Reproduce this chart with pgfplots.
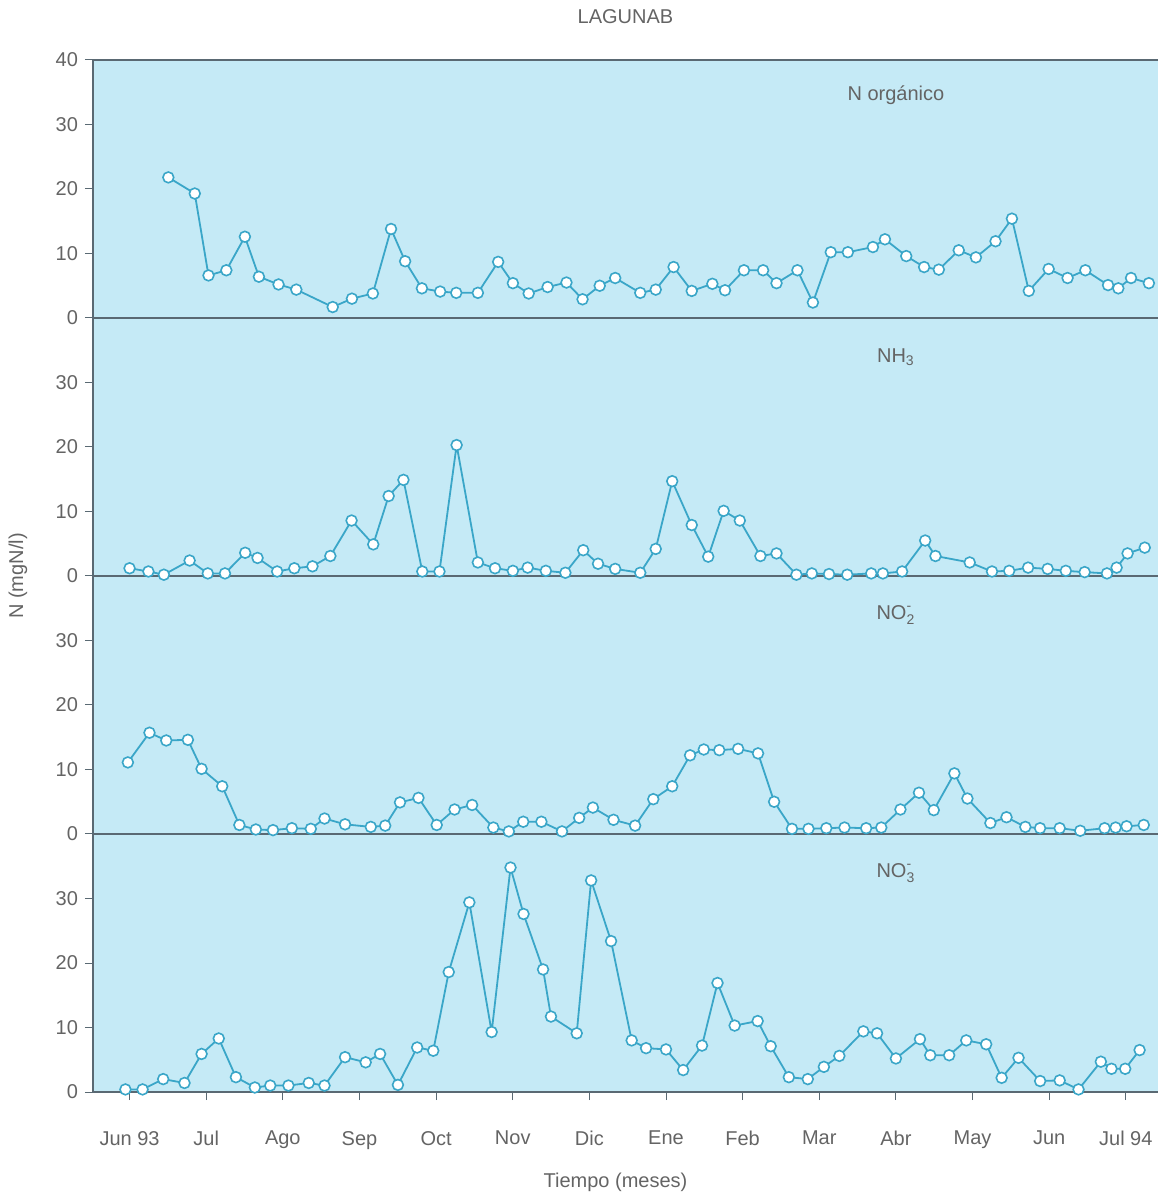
\documentclass[border=0pt]{standalone}
\usepackage{pgfplots}
\pgfplotsset{compat=1.18}
\usepackage{amsmath}
\usepackage{fontspec}
\setmainfont{Liberation Sans}
\definecolor{bgblue}{RGB}{197,234,246}
\definecolor{lineblue}{RGB}{58,166,200}
\definecolor{axgray}{RGB}{90,105,115}
\definecolor{txtgray}{RGB}{100,100,100}
\tikzset{lab/.style={text=txtgray, font=\fontsize{10}{12}\selectfont}}
\pgfplotsset{
 panel/.style={
  width=532.5pt, height=129pt, scale only axis,
  xmin=-0.477, xmax=13.42, ymin=0, ymax=40,
  axis x line*=bottom, axis y line*=left,
  axis line style={axgray, line width=0.7pt, -},
  axis background/.style={fill=bgblue},
  ytick={0,10,20,30},
  xtick=\empty,
  tick align=outside,
  major tick length=4pt,
  tick style={axgray, line width=0.5pt},
  ticklabel style={font=\fontsize{10}{12}\selectfont, text=txtgray},
  /pgf/number format/assume math mode=true,
  clip=false,
 },
 series/.style={lineblue, line width=0.9pt, mark=*, mark size=2.7pt,
   mark options={fill=white, draw=lineblue, line width=0.8pt}},
}
\begin{document}
\begin{tikzpicture}
\useasboundingbox (-46.5pt,-51.5pt) rectangle (532.5pt,546pt);
% Panel 4: NO3-
\begin{axis}[panel, at={(0,0)}, anchor=south west,
  xtick={0,...,13},
  xticklabels={Jun 93,Jul,Ago,Sep,Oct,Nov,Dic,Ene,Feb,Mar,Abr,May,Jun,Jul 94},
  xticklabel style={yshift=-12pt}]
\addplot[series] coordinates {(-0.054,0.4)(0.17,0.4)(0.439,2.0)(0.717,1.4)(0.94,5.9)(1.164,8.3)(1.388,2.3)(1.635,0.7)(1.836,1.0)(2.073,1.0)(2.338,1.4)(2.544,1.0)(2.812,5.4)(3.081,4.6)(3.269,5.9)(3.502,1.1)(3.753,6.9)(3.963,6.4)(4.165,18.6)(4.434,29.4)(4.725,9.3)(4.971,34.8)(5.141,27.6)(5.396,19.0)(5.499,11.7)(5.835,9.1)(6.023,32.8)(6.283,23.4)(6.552,8.0)(6.74,6.8)(7.0,6.6)(7.224,3.4)(7.47,7.2)(7.672,16.9)(7.896,10.3)(8.196,11.0)(8.366,7.1)(8.603,2.3)(8.85,2.0)(9.06,3.9)(9.262,5.6)(9.575,9.4)(9.754,9.1)(10.0,5.2)(10.314,8.2)(10.448,5.7)(10.695,5.7)(10.918,8.0)(11.178,7.4)(11.38,2.2)(11.6,5.3)(11.882,1.7)(12.137,1.8)(12.383,0.4)(12.674,4.7)(12.813,3.6)(12.992,3.6)(13.18,6.5)};
\node[lab] at (axis cs:10,34) {$\text{NO}^{\text{-}}_{\text{3}}$};
\node[lab] at (rel axis cs:0.5,0) [yshift=-45pt, xshift=-5pt] {Tiempo (meses)};
\end{axis}
% Panel 3: NO2-
\begin{axis}[panel, at={(0,129pt)}, anchor=south west]
\addplot[series] coordinates {(-0.022,11.1)(0.26,15.7)(0.479,14.5)(0.761,14.6)(0.94,10.1)(1.209,7.4)(1.433,1.4)(1.648,0.7)(1.872,0.6)(2.118,0.9)(2.365,0.8)(2.544,2.4)(2.812,1.5)(3.148,1.1)(3.336,1.3)(3.529,4.9)(3.77,5.6)(4.008,1.4)(4.241,3.8)(4.47,4.5)(4.747,1.0)(4.949,0.4)(5.137,1.9)(5.374,1.9)(5.643,0.4)(5.867,2.5)(6.046,4.1)(6.315,2.2)(6.597,1.3)(6.834,5.4)(7.081,7.4)(7.314,12.2)(7.493,13.1)(7.695,13.0)(7.941,13.2)(8.201,12.5)(8.411,5.0)(8.644,0.8)(8.859,0.8)(9.092,0.9)(9.329,1.0)(9.612,0.9)(9.809,1.0)(10.059,3.8)(10.301,6.4)(10.494,3.7)(10.763,9.4)(10.933,5.5)(11.233,1.7)(11.443,2.6)(11.689,1.1)(11.881,0.9)(12.137,0.9)(12.405,0.5)(12.723,0.9)(12.867,1.0)(13.01,1.2)(13.234,1.4)};
\node[lab] at (axis cs:10,34) {$\text{NO}^{\text{-}}_{\text{2}}$};
\end{axis}
% Panel 2: NH3
\begin{axis}[panel, at={(0,258pt)}, anchor=south west]
\addplot[series] coordinates {(0,1.2)(0.246,0.7)(0.448,0.2)(0.784,2.4)(1.021,0.4)(1.245,0.4)(1.509,3.6)(1.67,2.8)(1.926,0.7)(2.15,1.2)(2.387,1.5)(2.62,3.1)(2.897,8.6)(3.18,4.9)(3.381,12.4)(3.574,14.9)(3.82,0.7)(4.044,0.7)(4.268,20.3)(4.545,2.1)(4.769,1.2)(5.002,0.8)(5.195,1.3)(5.432,0.8)(5.687,0.5)(5.92,4.0)(6.113,1.9)(6.337,1.1)(6.664,0.5)(6.866,4.2)(7.081,14.7)(7.336,7.9)(7.551,3.0)(7.752,10.1)(7.963,8.6)(8.232,3.1)(8.442,3.5)(8.702,0.2)(8.903,0.4)(9.127,0.3)(9.365,0.2)(9.678,0.4)(9.83,0.4)(10.081,0.7)(10.382,5.5)(10.516,3.1)(10.963,2.1)(11.254,0.7)(11.478,0.8)(11.725,1.3)(11.98,1.1)(12.217,0.8)(12.463,0.6)(12.754,0.4)(12.88,1.3)(13.023,3.5)(13.247,4.4)};
\node[lab] at (axis cs:10,34) {NH\textsubscript{3}};
\end{axis}
% Panel 1: N organico
\begin{axis}[panel, at={(0,387pt)}, anchor=south west, ytick={0,10,20,30,40}]
\addplot[series] coordinates {(0.506,21.8)(0.851,19.3)(1.03,6.6)(1.263,7.4)(1.505,12.6)(1.688,6.4)(1.944,5.2)(2.176,4.4)(2.651,1.7)(2.902,3.0)(3.175,3.8)(3.412,13.8)(3.596,8.8)(3.815,4.6)(4.053,4.1)(4.263,3.9)(4.545,3.9)(4.81,8.7)(5.002,5.4)(5.208,3.8)(5.455,4.8)(5.701,5.5)(5.911,2.9)(6.135,5.0)(6.337,6.2)(6.664,3.9)(6.866,4.4)(7.099,7.9)(7.336,4.2)(7.605,5.3)(7.77,4.3)(8.017,7.4)(8.267,7.4)(8.442,5.4)(8.715,7.4)(8.917,2.4)(9.15,10.2)(9.373,10.2)(9.7,11.0)(9.857,12.2)(10.135,9.6)(10.368,7.9)(10.56,7.5)(10.82,10.5)(11.044,9.4)(11.3,11.9)(11.514,15.4)(11.734,4.2)(11.993,7.6)(12.24,6.2)(12.472,7.4)(12.768,5.1)(12.902,4.6)(13.068,6.2)(13.301,5.4)};
\node[lab] at (axis cs:10,34.5) {N orgánico};
\draw[axgray, line width=0.7pt] (rel axis cs:0,1) -- (rel axis cs:1,1);
\node[lab] at (rel axis cs:0.5,1) [yshift=21.5pt] {LAGUNAB};
\node[lab, rotate=90] at (rel axis cs:-0.0704,-1) {N (mgN/l)};
\end{axis}
\end{tikzpicture}
\end{document}
